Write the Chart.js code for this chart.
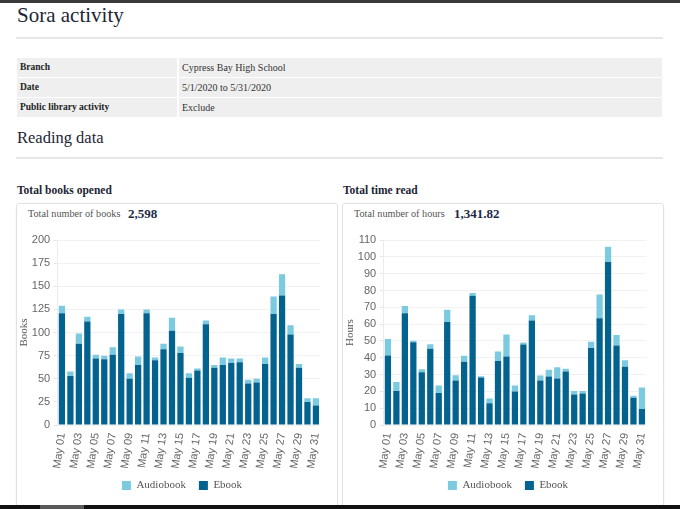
<!DOCTYPE html>
<html><head><meta charset="utf-8">
<script src="https://cdn.jsdelivr.net/npm/chart.js@4.4.0/dist/chart.umd.min.js"></script>
<style>
html,body{margin:0;padding:0;background:#fff;}
body{width:680px;height:509px;position:relative;overflow:hidden;font-family:"Liberation Serif","Times New Roman",serif;color:#1d2535;}
.topbar{position:absolute;left:0;top:0;width:680px;height:3px;background:#3a3a3a;}
.botbar{position:absolute;left:0;top:505px;width:680px;height:4px;background:#111;}
.botbar .prog{position:absolute;left:40px;top:0;width:44px;height:4px;background:#5a5a5a;}
.t{position:absolute;margin:0;white-space:nowrap;line-height:1;}
.rule{position:absolute;left:16px;width:647px;height:2px;background:#e7e7e7;}
.cell{position:absolute;height:19px;background:#efefef;font-size:9.5px;line-height:19px;white-space:nowrap;}
.lab{left:17px;width:157px;padding-left:3px;font-weight:bold;color:#222;}
.val{left:179px;width:480px;padding-left:3px;color:#333;font-size:10px;}
.card{position:absolute;top:203px;height:320px;border:1px solid #e2e2e2;border-radius:3px;box-shadow:0 0 2px rgba(0,0,0,0.06);}
.sub{font-size:10.2px;color:#555;}
.num{font-size:13px;font-weight:bold;color:#1b2a47;}
.cw{position:absolute;}
</style>
</head><body>
<div class="topbar"></div>
<h1 class="t" style="left:17px;top:5px;font-size:21px;font-weight:normal;">Sora activity</h1>
<div class="rule" style="top:37px;"></div>

<div class="cell lab" style="top:58px;">Branch</div>
<div class="cell val" style="top:58px;">Cypress Bay High School</div>
<div class="cell lab" style="top:78px;">Date</div>
<div class="cell val" style="top:78px;">5/1/2020 to 5/31/2020</div>
<div class="cell lab" style="top:98px;">Public library activity</div>
<div class="cell val" style="top:98px;">Exclude</div>

<div class="t" style="left:17px;top:130px;font-size:16.5px;">Reading data</div>
<div class="rule" style="top:157px;"></div>

<div class="t" style="left:17px;top:184.5px;font-size:11.5px;font-weight:bold;">Total books opened</div>
<div class="t" style="left:343px;top:184.5px;font-size:11.5px;font-weight:bold;">Total time read</div>

<div class="card" style="left:16px;width:320px;"></div>
<div class="card" style="left:342px;width:320px;"></div>

<div class="t sub" style="left:28px;top:208.5px;">Total number of books</div>
<div class="t num" style="left:128px;top:206.5px;">2,598</div>
<div class="t sub" style="left:354px;top:208.5px;">Total number of hours</div>
<div class="t num" style="left:454px;top:206.5px;">1,341.82</div>

<div class="cw" style="left:16px;top:230px;width:320px;height:273px;"><canvas id="c1"></canvas></div>
<div class="cw" style="left:342px;top:230px;width:320px;height:273px;"><canvas id="c2"></canvas></div>

<div class="botbar"><div class="prog"></div></div>

<script>
const days = ['May 01','May 02','May 03','May 04','May 05','May 06','May 07','May 08','May 09','May 10','May 11','May 12','May 13','May 14','May 15','May 16','May 17','May 18','May 19','May 20','May 21','May 22','May 23','May 24','May 25','May 26','May 27','May 28','May 29','May 30','May 31'];

const booksEbook     = [121,53,88,112,72,71,76,120,50,65,121,70,82,102,78,51,59,109,62,65,67,68,45,46,66,120,140,98,62,25,21];
const booksAudiobook = [8,5,11,5,4,4,8,5,6,9,4,3,6,14,7,5,2,4,3,8,5,4,4,4,7,19,23,10,4,4,8];

const hoursEbook     = [41.4,20.3,66.5,49.3,31.4,45.4,19.1,61.3,26.4,37.7,76.9,28.2,13.0,38.1,40.8,19.9,47.9,62.1,26.4,28.8,27.6,31.8,18.1,18.7,45.8,63.5,97.0,47.3,34.7,16.2,9.5];
const hoursAudiobook = [9.7,5.3,4.3,0.8,1.7,2.7,4.4,7.3,3.2,3.5,1.6,0.8,2.8,5.7,13.0,3.6,1.2,3.2,3.0,4.1,6.7,1.7,2.2,1.6,3.7,14.2,9.1,6.2,3.8,1.2,12.8];

const booksAxis = {min:0, max:200, step:25, title:'Books'};
const hoursAxis = {min:0, max:110, step:10, title:'Hours'};

const seriesNames = ['Ebook','Audiobook'];
const seriesColors = ['#04628f','#7bcae0'];

const legendShift = {
  id:'legendShift',
  afterLayout(chart, args, opts){
    const lg = chart.legend;
    if (lg) { lg.left += opts.dx||0; lg.right += opts.dx||0; lg.top += opts.dy||0; lg.bottom += opts.dy||0; }
  }
};

function makeChart(id, ebook, audio, axis){
  new Chart(document.getElementById(id), {
    type:'bar',
    data:{
      labels: days,
      datasets:[
        {label:seriesNames[0], data:ebook, backgroundColor:seriesColors[0], borderWidth:0},
        {label:seriesNames[1], data:audio, backgroundColor:seriesColors[1], borderWidth:0}
      ]
    },
    plugins:[legendShift],
    options:{
      responsive:true, maintainAspectRatio:false, animation:false,
      events:[],
      datasets:{bar:{barPercentage:0.74, categoryPercentage:1.0}},
      layout:{padding:{left:0,right:0,top:0,bottom:0}},
      scales:{
        x:{
          stacked:true,
          grid:{display:false, drawTicks:false},
          border:{display:false},
          afterFit(s){ s.height = 44; },
          ticks:{
            autoSkip:false, minRotation:82, maxRotation:82, padding:7,
            color:'#666', font:{family:'"Liberation Sans", Arial, sans-serif', size:11},
            callback(v,i){ return i % 2 === 0 ? days[i] : ''; }
          }
        },
        y:{
          stacked:true, min:axis.min, max:axis.max,
          afterFit(s){ s.width = 41.7; },
          grid:{color:'#f1f1f1', tickLength:4, tickColor:'#e4e4e4'},
          border:{color:'#ececec'},
          ticks:{stepSize:axis.step, padding:3.5, color:'#666', font:{family:'"Liberation Sans", Arial, sans-serif', size:11}},
          title:{display:true, text:axis.title, color:'#555', padding:{top:2,bottom:2}, font:{family:'"Liberation Serif", serif', size:11}}
        }
      },
      plugins:{
        legendShift:{dx:6, dy:-2},
        tooltip:{enabled:false},
        legend:{
          position:'bottom', reverse:true,
          labels:{boxWidth:9, boxHeight:9, padding:13, color:'#555', font:{family:'"Liberation Serif", serif', size:11}}
        }
      }
    }
  });
}

makeChart('c1', booksEbook, booksAudiobook, booksAxis);
makeChart('c2', hoursEbook, hoursAudiobook, hoursAxis);
</script>
</body></html>
